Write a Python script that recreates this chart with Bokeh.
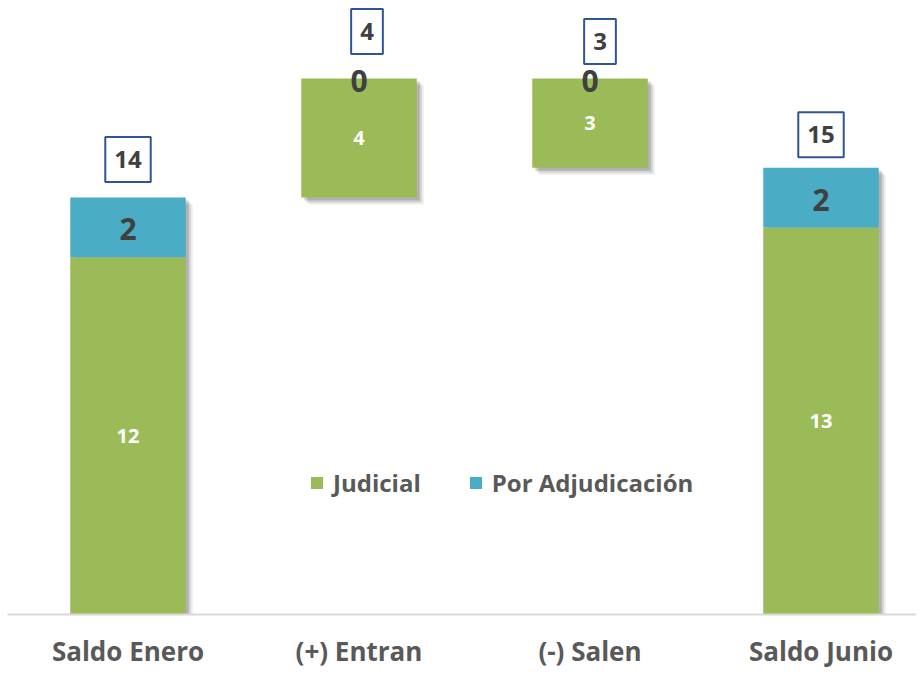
from bokeh.plotting import figure
from bokeh.models import (ColumnDataSource, Range1d, FixedTicker, LabelSet,
                          Legend, LegendItem)
from bokeh.core.properties import value
from bokeh.embed import file_html
from bokeh.resources import INLINE

categories = ["Saldo Enero", "(+) Entran", "(-) Salen", "Saldo Junio"]
judicial = [12, 4, 3, 13]
adjudicacion = [2, 0, 0, 2]
totals = [14, 4, 3, 15]
kind = ["total", "up", "down", "total"]

# waterfall bases
bases = []
running = 0
for k, t in zip(kind, totals):
    if k == "total":
        bases.append(0)
        running = t
    elif k == "up":
        bases.append(running)
        running += t
    else:
        running -= t
        bases.append(running)

xs = list(range(len(categories)))
j_top = [b + j for b, j in zip(bases, judicial)]
a_top = [jt + a for jt, a in zip(j_top, adjudicacion)]
j_mid = [(b + jt) / 2 for b, jt in zip(bases, j_top)]
a_mid = [(jt + at) / 2 for jt, at in zip(j_top, a_top)]
bar_top = [max(jt, at) for jt, at in zip(j_top, a_top)]

GREEN = "#9BBB59"
BLUE = "#4BACC6"
DARK = "#404040"
GREY = "#595959"
FONT = "Open Sans"

W = 916
H = 672
LEFT = 7
BOTTOM = 58
FW = W - LEFT
FH = H - BOTTOM
X0 = -120.5 / 231
X1 = X0 + FW / 231
Y0 = 0
Y1 = 20.62
px_x = (X1 - X0) / FW
px_y = (Y1 - Y0) / FH

p = figure(width=W, height=H, output_backend="svg", toolbar_location=None,
           x_range=Range1d(X0, X1), y_range=Range1d(Y0, Y1),
           y_axis_location=None, min_border_left=LEFT, min_border_right=0,
           min_border_top=0, min_border_bottom=BOTTOM)
p.outline_line_color = None
p.xgrid.visible = False
p.ygrid.visible = False
p.background_fill_color = "white"

hw = 0.25
src = ColumnDataSource(dict(
    x=xs, base=bases, jt=j_top, at=a_top, jm=j_mid, am=a_mid, top=bar_top,
    left=[x - hw for x in xs], right=[x + hw for x in xs],
    jl=[str(v) for v in judicial], al=[str(v) for v in adjudicacion],
    tl=[str(v) for v in totals],
))

# soft shadow
for off, alpha in [(7, 0.07), (5, 0.11), (3, 0.16)]:
    p.quad(left=[l + off * px_x for l in src.data["left"]],
           right=[r + off * px_x for r in src.data["right"]],
           bottom=[b - off * px_y for b in bases],
           top=[t - off * px_y for t in bar_top],
           fill_color="#000000", fill_alpha=alpha, line_color=None)

rj = p.quad(left="left", right="right", bottom="base", top="jt", source=src,
            fill_color=GREEN, line_color=None)
ra = p.quad(left="left", right="right", bottom="jt", top="at", source=src,
            fill_color=BLUE, line_color=None)

p.add_layout(LabelSet(x="x", y="jm", text="jl", source=src,
                      text_color="white", text_font=value(FONT),
                      text_font_style="bold", text_font_size="20px",
                      text_align="center", text_baseline="middle"))
p.add_layout(LabelSet(x="x", y="am", text="al", source=src, y_offset=-2,
                      text_color=DARK, text_font=value(FONT),
                      text_font_style="bold", text_font_size="30px",
                      text_align="center", text_baseline="middle"))

box_src = ColumnDataSource(dict(
    x=xs, y=bar_top, t=[str(v) for v in totals],
    xo=[0, 8, 10, 0], yo=[-38, -47, -37, -33],
))
p.text(x="x", y="y", text="t", source=box_src,
       x_offset="xo", y_offset="yo",
       text_color=DARK, text_font=value(FONT),
       text_font_style="bold", text_font_size="24px",
       text_align="center", text_baseline="middle",
       background_fill_color="white",
       border_line_color="#2F5597", border_line_width=2,
       padding=(9, 14))

ax = p.xaxis[0]
ax.ticker = FixedTicker(ticks=xs)
ax.major_label_overrides = {x: c for x, c in zip(xs, categories)}
ax.axis_line_color = "#D9D9D9"
ax.axis_line_width = 2
ax.major_tick_line_color = None
ax.minor_tick_line_color = None
ax.major_tick_out = 0
ax.major_tick_in = 0
ax.major_label_text_font = FONT
ax.major_label_text_font_style = "bold"
ax.major_label_text_font_size = "26px"
ax.major_label_text_color = GREY
ax.major_label_standoff = 18

legend = Legend(items=[LegendItem(label="Judicial", renderers=[rj]),
                       LegendItem(label="Por Adjudicación", renderers=[ra])],
                orientation="horizontal", location=(302, 115),
                label_text_font=FONT, label_text_font_style="bold",
                label_text_font_size="24px", label_text_color=GREY,
                glyph_width=15, glyph_height=15, label_standoff=9,
                spacing=47, padding=0, margin=0,
                border_line_color=None, background_fill_alpha=0)
p.add_layout(legend)

open("out.html", "w").write(file_html(p, INLINE))
